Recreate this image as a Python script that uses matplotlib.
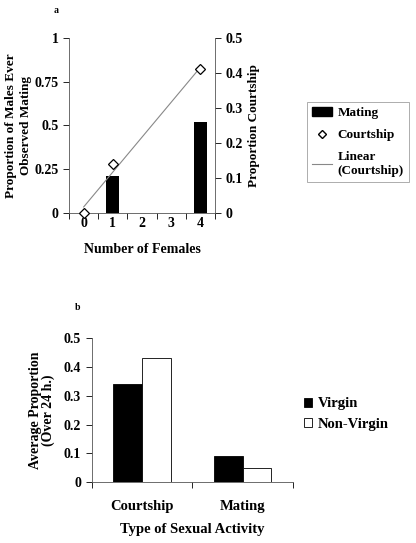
import numpy as np
import matplotlib
matplotlib.use("Agg")
import matplotlib.pyplot as plt
from matplotlib.patches import Patch
from matplotlib.lines import Line2D

plt.rcParams['font.family'] = 'Liberation Serif'
plt.rcParams['font.weight'] = 'bold'

# panel a data
females = [0, 1, 2, 3, 4]
female_labels = ['0', '1', '2', '3', '4']
mating_x = [1, 4]
mating_vals = [0.21, 0.52]
court_x = [0, 1, 4]
court_vals = [0.0, 0.14, 0.41]

# panel b data
activities = ['Courtship', 'Mating']
virgin = [0.34, 0.09]
non_virgin = [0.43, 0.05]

fig = plt.figure(figsize=(4.16, 5.43), dpi=100)

# ---- panel a ----
ax = fig.add_axes([0.166, 0.6077, 0.351, 0.3229])
ax.bar(mating_x, mating_vals, width=0.45, color='black')
ax.set_xlim(-0.5, 4.5)
ax.set_ylim(0, 1)
ax.set_yticks([0, 0.25, 0.5, 0.75, 1])
ax.set_yticklabels(['0', '0.25', '0.5', '0.75', '1'])
ax.set_xticks(females)
ax.set_xticklabels(female_labels)
ax.set_xticks(np.arange(-0.5, 5, 1), minor=True)
ax.tick_params(axis='x', which='major', length=0, pad=3, labelsize=10)
ax.tick_params(axis='x', which='minor', length=4, direction='out', width=0.6)
ax.tick_params(axis='y', length=4, width=0.6, labelsize=10)
ax.spines['top'].set_visible(False)
ax.spines['right'].set_visible(False)
for s in ['left', 'bottom']:
    ax.spines[s].set_linewidth(0.6)
    ax.spines[s].set_color('#555555')
ax.set_xlabel('Number of Females', fontsize=10, fontweight='bold', labelpad=9)
ax.set_ylabel('Proportion of Males Ever\nObserved Mating', fontsize=9.5,
              fontweight='bold', linespacing=1.25, labelpad=2)
fig.text(0.130, 0.981, 'a', fontsize=7, fontweight='bold', va='center')

ax2 = ax.twinx()
ax2.set_ylim(0, 0.5)
ax2.set_yticks([0, 0.1, 0.2, 0.3, 0.4, 0.5])
ax2.set_yticklabels(['0', '0.1', '0.2', '0.3', '0.4', '0.5'])
ax2.tick_params(axis='y', length=4, width=0.6, labelsize=10)
ax2.spines['top'].set_visible(False)
ax2.spines['left'].set_visible(False)
ax2.spines['bottom'].set_visible(False)
ax2.spines['right'].set_linewidth(0.6)
ax2.spines['right'].set_color('#555555')
slope, icpt = np.polyfit(court_x, court_vals, 1)
fit_x = np.array([min(court_x), max(court_x)])
ax2.plot(fit_x, slope * fit_x + icpt, color='#888888', lw=0.8, zorder=2)
ax2.plot(court_x, court_vals, linestyle='none', marker='D', markersize=5.5,
         markerfacecolor='white', markeredgecolor='black', markeredgewidth=0.9,
         zorder=3, clip_on=False)
ax2.set_ylabel('Proportion Courtship', fontsize=9.5, fontweight='bold', labelpad=4)

handles_a = [Patch(facecolor='black', edgecolor='black'),
             Line2D([], [], linestyle='none', marker='D', markersize=4,
                    markerfacecolor='white', markeredgecolor='black'),
             Line2D([], [], color='#888888', lw=0.8)]
leg = fig.legend(handles_a, ['Mating', 'Courtship', 'Linear\n(Courtship)'],
                 loc='upper left', bbox_to_anchor=(0.738, 0.813),
                 fontsize=9.5, frameon=True, fancybox=False, handlelength=1.5,
                 handletextpad=0.4, borderpad=0.4, labelspacing=0.75,
                 borderaxespad=0)
leg.get_frame().set_edgecolor('#888888')
leg.get_frame().set_linewidth(0.6)

# ---- panel b ----
bx = fig.add_axes([0.220, 0.1118, 0.484, 0.2652])
pos = np.arange(len(activities))
w = 0.2875
bx.bar(pos - w / 2, virgin, width=w, color='black', edgecolor='black',
       linewidth=0.6, label='Virgin')
bx.bar(pos + w / 2, non_virgin, width=w, color='white', edgecolor='black',
       linewidth=0.6, label='Non-Virgin')
bx.set_xlim(-0.5, 1.5)
bx.set_ylim(0, 0.5)
bx.set_yticks([0, 0.1, 0.2, 0.3, 0.4, 0.5])
bx.set_yticklabels(['0', '0.1', '0.2', '0.3', '0.4', '0.5'])
bx.set_xticks(pos)
bx.set_xticklabels(activities)
bx.set_xticks([-0.5, 0.5, 1.5], minor=True)
bx.tick_params(axis='x', which='major', length=0, pad=13, labelsize=10.5)
bx.tick_params(axis='x', which='minor', length=4, direction='out', width=0.6)
bx.tick_params(axis='y', length=4, width=0.6, labelsize=10)
bx.spines['top'].set_visible(False)
bx.spines['right'].set_visible(False)
for s in ['left', 'bottom']:
    bx.spines[s].set_linewidth(0.6)
    bx.spines[s].set_color('#555555')
bx.set_xlabel('Type of Sexual Activity', fontsize=10.5, fontweight='bold', labelpad=7)
bx.set_ylabel('Average Proportion\n(Over 24 h.)', fontsize=10, fontweight='bold',
              linespacing=1.0, labelpad=6)
fig.text(0.181, 0.433, 'b', fontsize=7, fontweight='bold', va='center')

fig.legend(loc='upper left', bbox_to_anchor=(0.716, 0.279), fontsize=10.5,
           frameon=False, handlelength=0.6, handleheight=0.6,
           handletextpad=0.35, labelspacing=0.5, borderaxespad=0)

fig.savefig('out.png', dpi=100)
